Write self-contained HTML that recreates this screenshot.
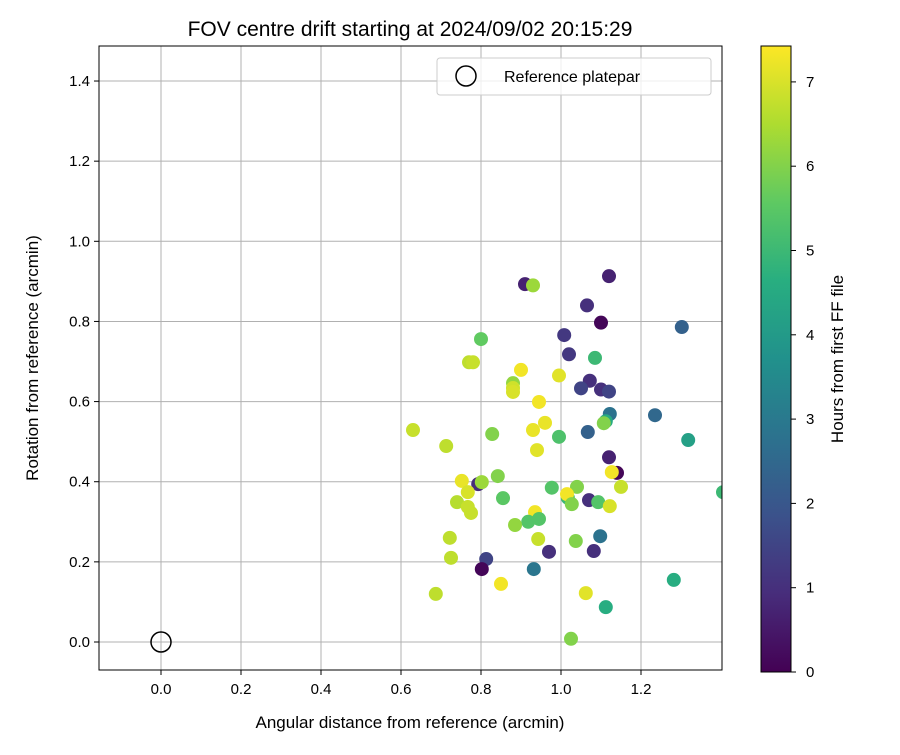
<!DOCTYPE html>
<html><head><meta charset="utf-8"><style>
body{margin:0;background:#fff;}
svg text{font-family:"Liberation Sans","DejaVu Sans",sans-serif;fill:#000;}
</style></head><body>
<svg id="chart" width="900" height="750" xmlns="http://www.w3.org/2000/svg">
<defs>
<clipPath id="plotclip"><rect x="99" y="46" width="623" height="624"/></clipPath>
<linearGradient id="vir" x1="0" y1="1" x2="0" y2="0">
<stop offset="0" stop-color="#440154"/><stop offset="0.125" stop-color="#472d7b"/><stop offset="0.25" stop-color="#3b528b"/><stop offset="0.375" stop-color="#2c728e"/><stop offset="0.5" stop-color="#21918c"/><stop offset="0.625" stop-color="#28ae80"/><stop offset="0.75" stop-color="#5ec962"/><stop offset="0.875" stop-color="#addc30"/><stop offset="1" stop-color="#fde725"/>
</linearGradient>
</defs>
<text x="410" y="36" font-size="21" text-anchor="middle">FOV centre drift starting at 2024/09/02 20:15:29</text>
<g id="grid"></g>
<g id="ticks"></g>
<g id="points" clip-path="url(#plotclip)"></g>
<circle cx="161" cy="642" r="10" fill="none" stroke="#000" stroke-width="1.5"/>
<rect x="99" y="46" width="623" height="624" fill="none" stroke="#000" stroke-width="1"/>
<text x="410" y="728" font-size="17" text-anchor="middle">Angular distance from reference (arcmin)</text>
<text transform="translate(38,358) rotate(-90)" font-size="17" text-anchor="middle">Rotation from reference (arcmin)</text>
<g>
<rect x="437" y="58" width="274" height="37" rx="3" fill="#fff" fill-opacity="0.8" stroke="#ccc"/>
<circle cx="466" cy="76" r="10" fill="none" stroke="#000" stroke-width="1.5"/>
<text x="504" y="82" font-size="16">Reference platepar</text>
</g>
<rect x="761" y="46" width="30" height="626" fill="url(#vir)" stroke="#000" stroke-width="1"/>
<g id="cbticks"></g>
<text transform="translate(843,359) rotate(-90)" font-size="17" text-anchor="middle">Hours from first FF file</text>
</svg>
<script>
const xs=[0.91,0.93,1.12,1.065,1.10,1.302,1.008,1.02,1.085,0.80,0.77,0.78,0.90,0.995,1.072,1.05,1.10,1.12,0.88,0.88,0.88,0.945,1.122,1.235,0.96,1.112,1.107,0.63,0.93,0.828,1.067,0.995,1.318,0.713,0.94,1.12,1.14,1.127,1.15,0.752,0.793,0.802,0.842,0.767,0.74,0.767,0.775,0.855,0.977,1.04,1.017,1.015,1.027,1.07,1.093,1.122,0.935,0.918,0.945,0.885,0.722,0.943,1.037,1.098,0.97,1.082,0.725,0.813,0.802,0.932,0.85,0.687,1.062,1.112,1.282,1.025,1.405];
const ys=[0.893,0.89,0.913,0.84,0.797,0.786,0.766,0.718,0.709,0.756,0.698,0.698,0.679,0.665,0.652,0.633,0.630,0.625,0.646,0.634,0.624,0.599,0.569,0.566,0.547,0.551,0.546,0.529,0.529,0.519,0.524,0.512,0.504,0.489,0.479,0.461,0.422,0.424,0.387,0.402,0.394,0.399,0.414,0.374,0.349,0.337,0.322,0.359,0.385,0.387,0.36,0.369,0.344,0.354,0.349,0.339,0.324,0.30,0.307,0.292,0.26,0.257,0.252,0.264,0.225,0.227,0.21,0.207,0.182,0.182,0.145,0.12,0.122,0.087,0.155,0.008,0.374];
const hours=[0.7,6.3,0.7,1.0,0.1,2.3,1.2,1.2,5.0,5.6,6.7,6.8,7.3,7.1,1.0,1.5,1.0,1.5,6.2,6.9,7.0,7.3,2.8,2.5,7.2,4.5,6.0,6.8,7.2,6.0,2.3,5.3,4.2,6.7,7.1,0.7,0.1,7.3,6.8,7.2,0.9,6.3,6.0,7.0,6.6,6.8,6.8,5.5,5.4,6.0,5.0,7.3,6.0,1.0,5.4,7.0,7.3,5.4,5.4,6.2,6.7,6.8,6.0,2.8,1.0,1.0,6.7,1.5,0.1,2.9,7.3,6.7,7.1,4.6,4.6,6.0,5.0];
const xTicks=[0,0.2,0.4,0.6,0.8,1.0,1.2];
const yTicks=[0,0.2,0.4,0.6,0.8,1.0,1.2,1.4];
const cTicks=[0,1,2,3,4,5,6,7];
const NS="http://www.w3.org/2000/svg";
const X=v=>161+v*400, Y=v=>642-v*400.7, C=v=>672-v*84.3;
const stops=["#440154","#472d7b","#3b528b","#2c728e","#21918c","#28ae80","#5ec962","#addc30","#fde725"];
function hex(h){return [1,3,5].map(i=>parseInt(h.substr(i,2),16));}
function vir(h){let t=Math.max(0,Math.min(1,h/7.43))*8;let i=Math.min(7,Math.floor(t)),f=t-i;const a=hex(stops[i]),b=hex(stops[i+1]);return "rgb("+a.map((v,k)=>Math.round(v+(b[k]-v)*f)).join(",")+")";}
function mk(tag,attrs,parent){const e=document.createElementNS(NS,tag);for(const k in attrs)e.setAttribute(k,attrs[k]);parent.appendChild(e);return e;}
const grid=document.getElementById('grid'),ticks=document.getElementById('ticks'),pts=document.getElementById('points'),cb=document.getElementById('cbticks');
xTicks.forEach(v=>{
 const l=mk('line',{x1:X(v),x2:X(v),y1:46,y2:670,stroke:'#b0b0b0','stroke-width':1},grid);
 
 
 mk('line',{x1:X(v),x2:X(v),y1:670,y2:675,stroke:'#000'},ticks);
 const t=mk('text',{x:X(v),y:694,'font-size':15,'text-anchor':'middle'},ticks);
 
 
 t.textContent=v.toFixed(1);
});
yTicks.forEach(v=>{
 const l=mk('line',{x1:99,x2:722,y1:Y(v),y2:Y(v),stroke:'#b0b0b0','stroke-width':1},grid);
 
 
 mk('line',{x1:94,x2:99,y1:Y(v),y2:Y(v),stroke:'#000'},ticks);
 const t=mk('text',{x:90,y:Y(v)+5,'font-size':15,'text-anchor':'end'},ticks);
 
 
 t.textContent=v.toFixed(1);
});
cTicks.forEach(v=>{
 mk('line',{x1:791,x2:796,y1:C(v),y2:C(v),stroke:'#000'},cb);
 const t=mk('text',{x:806,y:C(v)+5,'font-size':15},cb);
 
 
 t.textContent=v;
});
xs.forEach((x,i)=>{
 const c=mk('circle',{cx:X(x),cy:Y(ys[i]),r:7,fill:vir(hours[i])},pts);
 
 
});
</script>
</body></html>
